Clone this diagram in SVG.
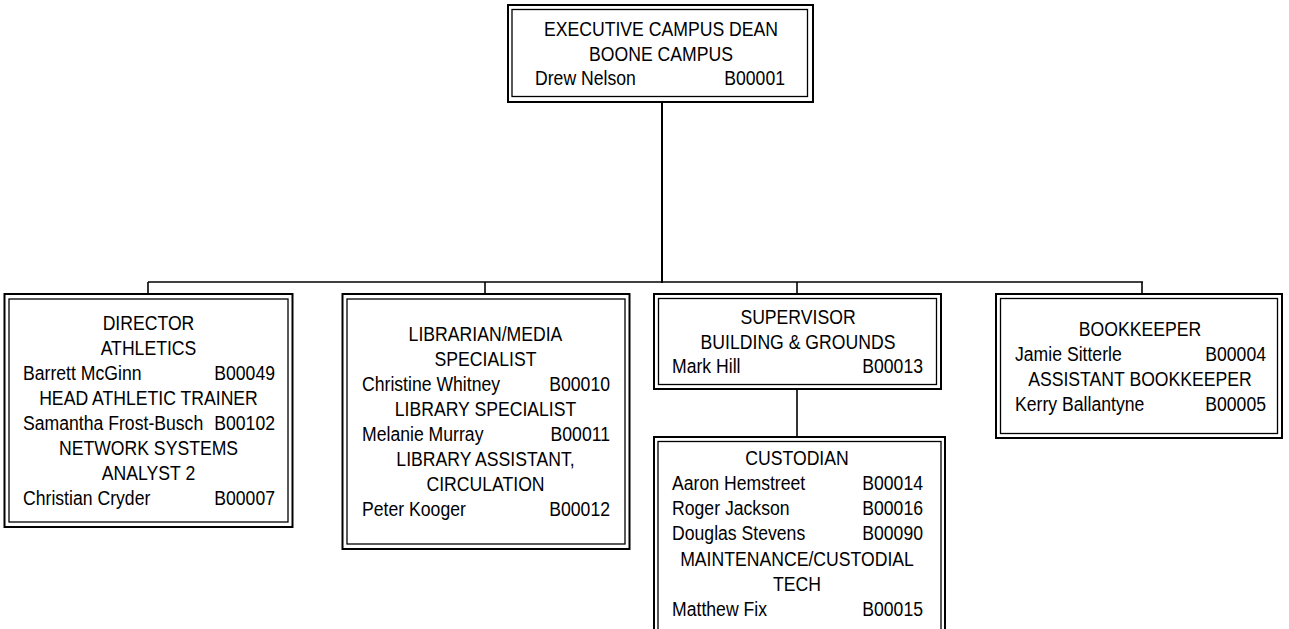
<svg xmlns="http://www.w3.org/2000/svg" width="1289" height="629" viewBox="0 0 1289 629">
<style>
.o{fill:none;stroke:#000;stroke-width:2}
.i{fill:none;stroke:#000;stroke-width:1.3}
.c{fill:none;stroke:#000;stroke-width:1.6}
.t{fill:none;stroke:#000;stroke-width:2}
text{font-family:"Liberation Sans",Arial,sans-serif;font-size:21px;fill:#000}
.m{text-anchor:middle}
.e{text-anchor:end}
</style>
<rect width="1289" height="629" fill="#fff"/>
<g id="connectors">
<line class="t" x1="662" y1="103" x2="662" y2="283"/>
<line class="c" x1="148" y1="282" x2="1143" y2="282"/>
<line class="c" x1="148" y1="282" x2="148" y2="294"/>
<line class="c" x1="485" y1="282" x2="485" y2="294"/>
<line class="c" x1="797" y1="282" x2="797" y2="294"/>
<line class="c" x1="1142" y1="282" x2="1142" y2="294"/>
<line class="c" x1="797" y1="390" x2="797" y2="437"/>
</g>
<g id="dean">
<rect class="o" x="508" y="5" width="305" height="97"/>
<rect class="i" x="512" y="9.5" width="295.5" height="87"/>
<text class="m" transform="translate(661,36) scale(.84,1)">EXECUTIVE CAMPUS DEAN</text>
<text class="m" transform="translate(661,61) scale(.84,1)">BOONE CAMPUS</text>
<text transform="translate(535,85) scale(.84,1)">Drew Nelson</text>
<text class="e" transform="translate(785,85) scale(.84,1)">B00001</text>
</g>
<g id="athletics">
<rect class="o" x="4.5" y="294" width="288" height="233"/>
<rect class="i" x="9" y="299" width="279" height="223"/>
<text class="m" transform="translate(148.5,330) scale(.84,1)">DIRECTOR</text>
<text class="m" transform="translate(148.5,355) scale(.84,1)">ATHLETICS</text>
<text transform="translate(23,380) scale(.84,1)">Barrett McGinn</text>
<text class="e" transform="translate(275,380) scale(.84,1)">B00049</text>
<text class="m" transform="translate(148.5,405) scale(.84,1)">HEAD ATHLETIC TRAINER</text>
<text transform="translate(23,430) scale(.84,1)">Samantha Frost-Busch</text>
<text class="e" transform="translate(275,430) scale(.84,1)">B00102</text>
<text class="m" transform="translate(148.5,455) scale(.84,1)">NETWORK SYSTEMS</text>
<text class="m" transform="translate(148.5,480) scale(.84,1)">ANALYST 2</text>
<text transform="translate(23,505) scale(.84,1)">Christian Cryder</text>
<text class="e" transform="translate(275,505) scale(.84,1)">B00007</text>
</g>
<g id="library">
<rect class="o" x="342.5" y="294" width="287" height="255"/>
<rect class="i" x="347" y="299" width="278" height="245"/>
<text class="m" transform="translate(485.5,341) scale(.84,1)">LIBRARIAN/MEDIA</text>
<text class="m" transform="translate(485.5,366) scale(.84,1)">SPECIALIST</text>
<text transform="translate(362,391) scale(.84,1)">Christine Whitney</text>
<text class="e" transform="translate(610,391) scale(.84,1)">B00010</text>
<text class="m" transform="translate(485.5,416) scale(.84,1)">LIBRARY SPECIALIST</text>
<text transform="translate(362,441) scale(.84,1)">Melanie Murray</text>
<text class="e" transform="translate(610,441) scale(.84,1)">B00011</text>
<text class="m" transform="translate(485.5,466) scale(.84,1)">LIBRARY ASSISTANT,</text>
<text class="m" transform="translate(485.5,491) scale(.84,1)">CIRCULATION</text>
<text transform="translate(362,516) scale(.84,1)">Peter Kooger</text>
<text class="e" transform="translate(610,516) scale(.84,1)">B00012</text>
</g>
<g id="supervisor">
<rect class="o" x="654" y="294" width="287" height="95"/>
<rect class="i" x="658.5" y="298.5" width="278" height="86"/>
<text class="m" transform="translate(798,324) scale(.84,1)">SUPERVISOR</text>
<text class="m" transform="translate(798,349) scale(.84,1)">BUILDING &amp; GROUNDS</text>
<text transform="translate(672,373) scale(.84,1)">Mark Hill</text>
<text class="e" transform="translate(923,373) scale(.84,1)">B00013</text>
</g>
<g id="custodian">
<rect class="o" x="654" y="437" width="291" height="200"/>
<rect class="i" x="658" y="441.5" width="283" height="190"/>
<text class="m" transform="translate(797,465) scale(.84,1)">CUSTODIAN</text>
<text transform="translate(672,490) scale(.84,1)">Aaron Hemstreet</text>
<text class="e" transform="translate(923,490) scale(.84,1)">B00014</text>
<text transform="translate(672,515) scale(.84,1)">Roger Jackson</text>
<text class="e" transform="translate(923,515) scale(.84,1)">B00016</text>
<text transform="translate(672,540) scale(.84,1)">Douglas Stevens</text>
<text class="e" transform="translate(923,540) scale(.84,1)">B00090</text>
<text class="m" transform="translate(797,566) scale(.84,1)">MAINTENANCE/CUSTODIAL</text>
<text class="m" transform="translate(797,591) scale(.84,1)">TECH</text>
<text transform="translate(672,616) scale(.84,1)">Matthew Fix</text>
<text class="e" transform="translate(923,616) scale(.84,1)">B00015</text>
</g>
<g id="bookkeeper">
<rect class="o" x="996" y="294" width="286" height="144"/>
<rect class="i" x="1000.5" y="298.5" width="277" height="135"/>
<text class="m" transform="translate(1140,336) scale(.84,1)">BOOKKEEPER</text>
<text transform="translate(1015,361) scale(.84,1)">Jamie Sitterle</text>
<text class="e" transform="translate(1266,361) scale(.84,1)">B00004</text>
<text class="m" transform="translate(1140,386) scale(.84,1)">ASSISTANT BOOKKEEPER</text>
<text transform="translate(1015,411) scale(.84,1)">Kerry Ballantyne</text>
<text class="e" transform="translate(1266,411) scale(.84,1)">B00005</text>
</g>
</svg>
